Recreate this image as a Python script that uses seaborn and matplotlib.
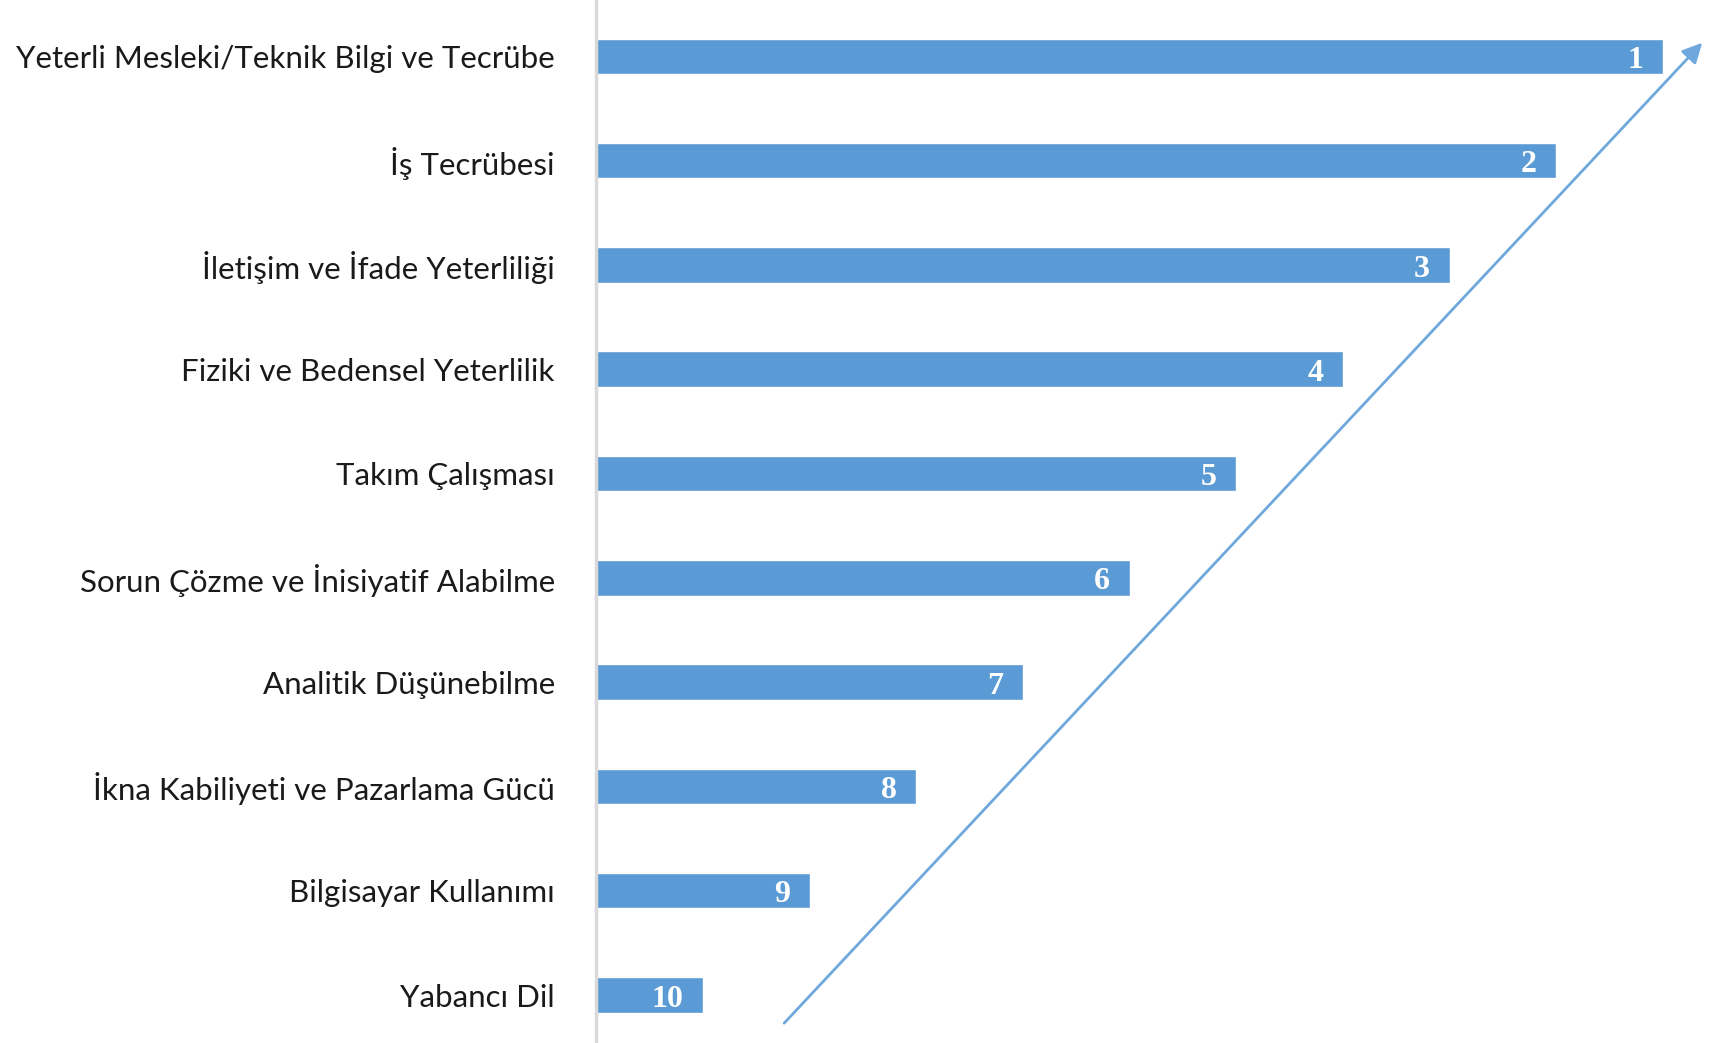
import pandas as pd
import seaborn as sns
import matplotlib.pyplot as plt

# ------------------------------------------------------------------------------------
# data

categories = [
    "Yeterli Mesleki/Teknik Bilgi ve Tecrübe",
    "İş Tecrübesi",
    "İletişim ve İfade Yeterliliği",
    "Fiziki ve Bedensel Yeterlilik",
    "Takım Çalışması",
    "Sorun Çözme ve İnisiyatif Alabilme",
    "Analitik Düşünebilme",
    "İkna Kabiliyeti ve Pazarlama Gücü",
    "Bilgisayar Kullanımı",
    "Yabancı Dil",
]
scores = [10, 9, 8, 7, 6, 5, 4, 3, 2, 1]
ranks = [1, 2, 3, 4, 5, 6, 7, 8, 9, 10]

bar_color = "#5B9BD5"
arrow_color = "#6FA8DC"

# ------------------------------------------------------------------------------------

df = pd.DataFrame({"Kategori": categories, "Puan": scores, "Sira": ranks})

sns.set_style("white")
plt.rcParams["font.family"] = ["Lato", "DejaVu Sans"]

fig = plt.figure(figsize=(17.14, 10.43), dpi=100)
ax = fig.add_axes([0.348, 0.0, 0.652, 1.0])

sns.barplot(
    data=df, x="Puan", y="Kategori", orient="h",
    color=bar_color, saturation=1, width=0.34, ax=ax
)

# rank numbers inside the bar ends
for i, (val, rank) in enumerate(zip(df["Puan"], df["Sira"])):
    ax.annotate(
        str(rank), xy=(val, i), xytext=(-14, -3), textcoords="offset points",
        ha="right", va="center", color="white", fontsize=23,
        fontweight="bold", family="Liberation Serif"
    )

# rising arrow across the bar ends
n = len(categories)
ax.annotate(
    "", xy=(10.37, -0.13), xytext=(1.76, n - 1 + 0.27),
    arrowprops=dict(arrowstyle="-|>", color=arrow_color, lw=2,
                    mutation_scale=30, shrinkA=0, shrinkB=0)
)

ax.set_xlim(0, 10.48)
ax.set_ylim(n - 1 + 0.46, -0.54)
ax.set_xlabel("")
ax.set_ylabel("")
ax.set_xticks([])
ax.tick_params(axis="y", length=0, pad=30, labelsize=22.5, labelcolor="#1a1a1a")

for side in ["top", "right", "bottom"]:
    ax.spines[side].set_visible(False)
ax.spines["left"].set_color("#d9d9d9")
ax.spines["left"].set_linewidth(2.5)

fig.savefig("out.png", dpi=100)
